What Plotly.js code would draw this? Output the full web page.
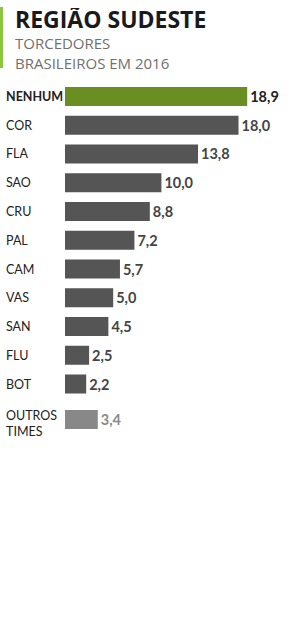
<!DOCTYPE html>
<html>
<head>
<meta charset="utf-8">
<script src="https://cdn.plot.ly/plotly-3.0.1.min.js"></script>
<style>html,body{margin:0;padding:0;background:#fff;}#chart{width:300px;height:618px;}</style>
</head>
<body>
<div id="chart"></div>
<script>
const categories = ["NENHUM","COR","FLA","SAO","CRU","PAL","CAM","VAS","SAN","FLU","BOT"];
const values = [18.9,18.0,13.8,10.0,8.8,7.2,5.7,5.0,4.5,2.5,2.2];
const otherCategory = ["OUTROS<br>TIMES"];
const otherValues = [3.4];
const titleText = "REGIÃO SUDESTE";
const subtitleLines = ["TORCEDORES","BRASILEIROS EM 2016"];

const W = 300, H = 618;
const py = px => 1 - px / H;
const barColors = categories.map((c,i) => i === 0 ? "#6b8e23" : "#555555");
const textColors = categories.map((c,i) => i === 0 ? "#222222" : "#444444");

const traces = [
  {
    type: "bar", orientation: "h",
    x: values, y: categories,
    marker: {color: barColors},
    texttemplate: "%{x:.1f}", textposition: "outside", cliponaxis: false, constraintext: "none",
    textfont: {family: "Lato, sans-serif", size: 14.5, color: textColors, weight: 700},
    hoverinfo: "none", xaxis: "x", yaxis: "y"
  },
  {
    type: "bar", orientation: "h",
    x: otherValues, y: otherCategory,
    width: 0.66,
    marker: {color: "#888888"},
    texttemplate: "%{x:.1f}", textposition: "outside", cliponaxis: false, constraintext: "none",
    textfont: {family: "Lato, sans-serif", size: 14.5, color: "#8a8a8a", weight: 700},
    hoverinfo: "none", xaxis: "x", yaxis: "y2"
  }
];

const annotations = [];
categories.forEach((c,i) => {
  annotations.push({
    xref: "paper", yref: "y", x: 4/W, y: c, xanchor: "left", yanchor: "middle",
    text: i === 0 ? "<b>" + c + "</b>" : c, showarrow: false,
    font: {family: "Lato, sans-serif", size: 12.5, color: "#222222"}
  });
});
otherCategory.forEach(c => {
  annotations.push({
    xref: "paper", yref: "y2", x: 4/W, y: c, xanchor: "left", yanchor: "middle", yshift: -4,
    text: c, showarrow: false, align: "left",
    font: {family: "Lato, sans-serif", size: 12.5, color: "#222222"}
  });
});
annotations.push({
  xref: "paper", yref: "paper", x: 13/W, y: py(19), xanchor: "left", yanchor: "middle",
  height: 22, valign: "middle",
  text: "<b>" + titleText + "</b>", showarrow: false,
  font: {family: "Open Sans, sans-serif", size: 23, color: "#1a1a1a"}
});
annotations.push({
  xref: "paper", yref: "paper", x: 13/W, y: py(53), xanchor: "left", yanchor: "middle",
  height: 34, valign: "middle",
  text: subtitleLines.join("<br>"), showarrow: false, align: "left",
  font: {family: "Open Sans, sans-serif", size: 15, color: "#707070", weight: 400}
});

const layout = {
  width: W, height: H,
  margin: {l: 0, r: 0, t: 0, b: 0},
  paper_bgcolor: "#ffffff", plot_bgcolor: "#ffffff",
  separators: ",.",
  showlegend: false,
  barmode: "overlay",
  bargap: 0.34,
  xaxis: {domain: [65/W, 1], range: [0, 235/9.64], visible: false, fixedrange: true},
  yaxis: {domain: [py(398.4), py(82.1)], autorange: "reversed", visible: false, type: "category"},
  yaxis2: {domain: [py(433.9), py(405.1)], anchor: "x", visible: false, type: "category", range: [-0.5, 0.5]},
  shapes: [{type: "rect", xref: "paper", yref: "paper", x0: 0, x1: 3/W, y0: py(68), y1: py(7),
            fillcolor: "#8cc63f", line: {width: 0}}],
  annotations: annotations
};

Plotly.newPlot("chart", traces, layout, {displayModeBar: false, staticPlot: true});
</script>
</body>
</html>
